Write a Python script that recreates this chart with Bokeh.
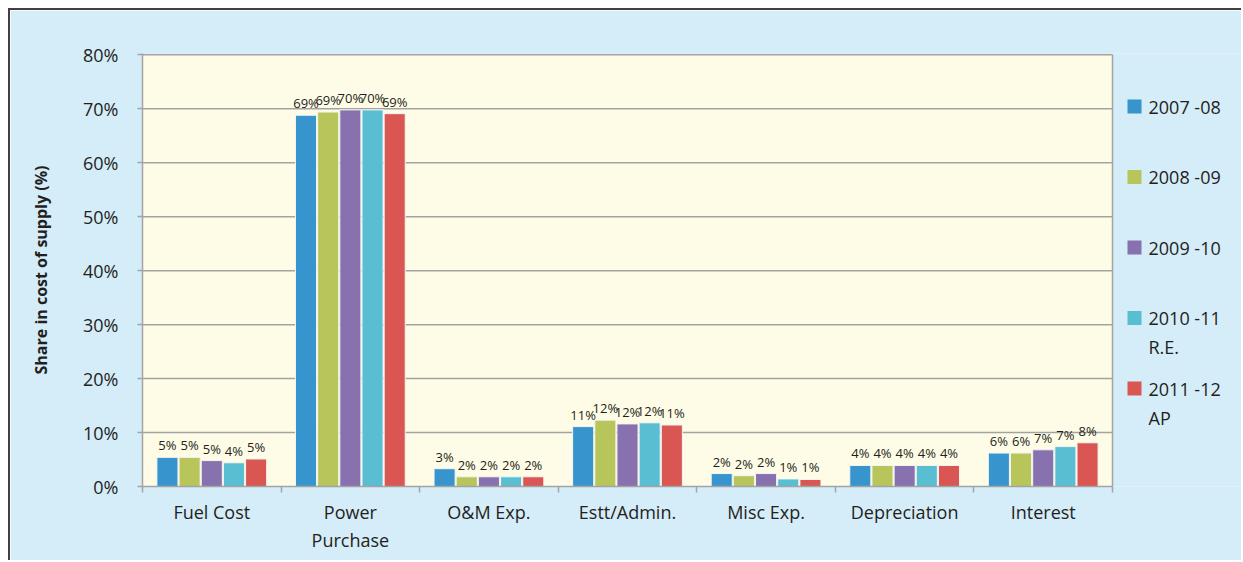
from bokeh.plotting import figure
from bokeh.models import FixedTicker, Range1d
from bokeh.embed import file_html
from bokeh.resources import INLINE
from bokeh.core.properties import value

# ---------------- data ----------------
categories = ["Fuel Cost", "Power Purchase", "O&M Exp.", "Estt/Admin.",
              "Misc Exp.", "Depreciation", "Interest"]
category_labels = ["Fuel Cost", "Power\nPurchase", "O&M Exp.", "Estt/Admin.",
                   "Misc Exp.", "Depreciation", "Interest"]
series_names = ["2007 -08", "2008 -09", "2009 -10", "2010 -11\nR.E.", "2011 -12\nAP"]
v2007_08 = [5.4, 68.8, 3.3, 11.1, 2.4, 3.9, 6.2]
v2008_09 = [5.4, 69.4, 1.8, 12.3, 2.0, 3.9, 6.2]
v2009_10 = [4.8, 69.8, 1.8, 11.6, 2.4, 3.9, 6.8]
v2010_11 = [4.4, 69.8, 1.8, 11.8, 1.4, 3.9, 7.4]
v2011_12 = [5.1, 69.1, 1.8, 11.4, 1.3, 3.9, 8.1]
series_values = [v2007_08, v2008_09, v2009_10, v2010_11, v2011_12]
y_ticks = [0, 10, 20, 30, 40, 50, 60, 70, 80]
y_tick_labels = ["0%", "10%", "20%", "30%", "40%", "50%", "60%", "70%", "80%"]
y_title = "Share in cost of supply (%)"

# ---------------- style ----------------
colors = ["#3794CD", "#B8C55B", "#8771AE", "#5ABED2", "#D95652"]
BG = "#D5ECF9"
CREAM = "#FEFCE6"
GRID = "#A3A3A3"
TXT = "#231F20"
FONT = "Open Sans"

CW, CH = 1233, 552          # canvas size (page offset 10,10)
ML, MT, MB = 132, 43, 76    # frame: left 142, top 53, bottom 486
n_cat = len(categories)
px_per_unit = 970 / n_cat
frame_w = CW - ML
frame_h = CH - MT - MB
x_end = frame_w / px_per_unit
y_end = 80.25

p = figure(width=CW, height=CH,
           x_range=Range1d(0, x_end), y_range=Range1d(0, y_end),
           output_backend="svg", toolbar_location=None,
           min_border_left=ML, min_border_right=0,
           min_border_top=MT, min_border_bottom=MB,
           background_fill_color=BG, border_fill_color=BG,
           styles={"margin-left": "8px", "margin-top": "8px",
                   "border-left": "2px solid #404040",
                   "border-top": "2px solid #404040"})
p.outline_line_color = None
p.xgrid.visible = False
p.ygrid.visible = False

# plot area (cream)
p.quad(left=[0], right=[n_cat], bottom=[0], top=[y_ticks[-1]],
       fill_color=CREAM, line_color=None)
# gridlines
p.segment(x0=[0] * (len(y_ticks) - 1), x1=[n_cat] * (len(y_ticks) - 1),
          y0=y_ticks[1:], y1=y_ticks[1:], line_color=GRID, line_width=1.5)
# right border of plot area
p.segment(x0=[n_cat], x1=[n_cat], y0=[0], y1=[y_ticks[-1]],
          line_color=GRID, line_width=1.5)

# bars
slot = 0.16
n_ser = len(series_values)
for j, vals in enumerate(series_values):
    xs = [i + 0.5 + (j - (n_ser - 1) / 2) * slot for i in range(n_cat)]
    p.vbar(x=xs, top=vals, width=slot * 0.95, bottom=0,
           fill_color=colors[j], line_color="#F4F6F0", line_width=1)
    p.text(x=xs, y=vals, text=[f"{round(v)}%" for v in vals],
           text_align="center", text_baseline="bottom", y_offset=-3,
           text_font=value(FONT), text_font_size="13px", text_color=TXT)

# legend (drawn manually in the area right of the plot)
leg_sq_x = (1134 - 142) / px_per_unit
leg_tx_x = (1148 - 142) / px_per_unit
y_scale = frame_h / y_end
for j, name in enumerate(series_names):
    y_pix = 106 + j * 70.5
    yv = (486 - y_pix) / y_scale
    p.scatter(x=[leg_sq_x], y=[yv], marker="square", size=14,
              fill_color=colors[j], line_color=None)
    for k, line in enumerate(name.split("\n")):
        p.text(x=[leg_tx_x], y=[yv], text=[line], y_offset=29 * k,
               text_align="left", text_baseline="middle",
               text_font=value(FONT), text_font_size="18px", text_color=TXT)

# y axis
ya = p.yaxis[0]
ya.ticker = FixedTicker(ticks=y_ticks)
ya.major_label_overrides = {t: l for t, l in zip(y_ticks, y_tick_labels)}
ya.axis_label = y_title
ya.axis_label_text_font = FONT
ya.axis_label_text_font_style = "bold"
ya.axis_label_text_font_size = "16px"
ya.axis_label_text_color = TXT
ya.axis_label_standoff = 28
ya.major_label_text_font = FONT
ya.major_label_text_font_size = "18px"
ya.major_label_text_color = TXT
ya.major_label_standoff = 19
ya.axis_line_color = GRID
ya.axis_line_width = 1.5
ya.major_tick_line_color = GRID
ya.major_tick_line_width = 1.5
ya.major_tick_out = 5
ya.major_tick_in = 0
ya.minor_tick_line_color = None

# x axis
xa = p.xaxis[0]
centers = [i + 0.5 for i in range(n_cat)]
xa.ticker = FixedTicker(ticks=centers, minor_ticks=list(range(n_cat + 1)))
xa.major_label_overrides = {c: l for c, l in zip(centers, category_labels)}
xa.bounds = (0, n_cat)
xa.major_label_text_font = FONT
xa.major_label_text_font_size = "18px"
xa.major_label_text_color = TXT
xa.major_label_standoff = 7
xa.axis_line_color = GRID
xa.axis_line_width = 1.5
xa.major_tick_line_color = None
xa.minor_tick_line_color = GRID
xa.minor_tick_line_width = 1.5
xa.minor_tick_out = 6
xa.minor_tick_in = 0

open("out.html", "w").write(file_html(p, INLINE))
